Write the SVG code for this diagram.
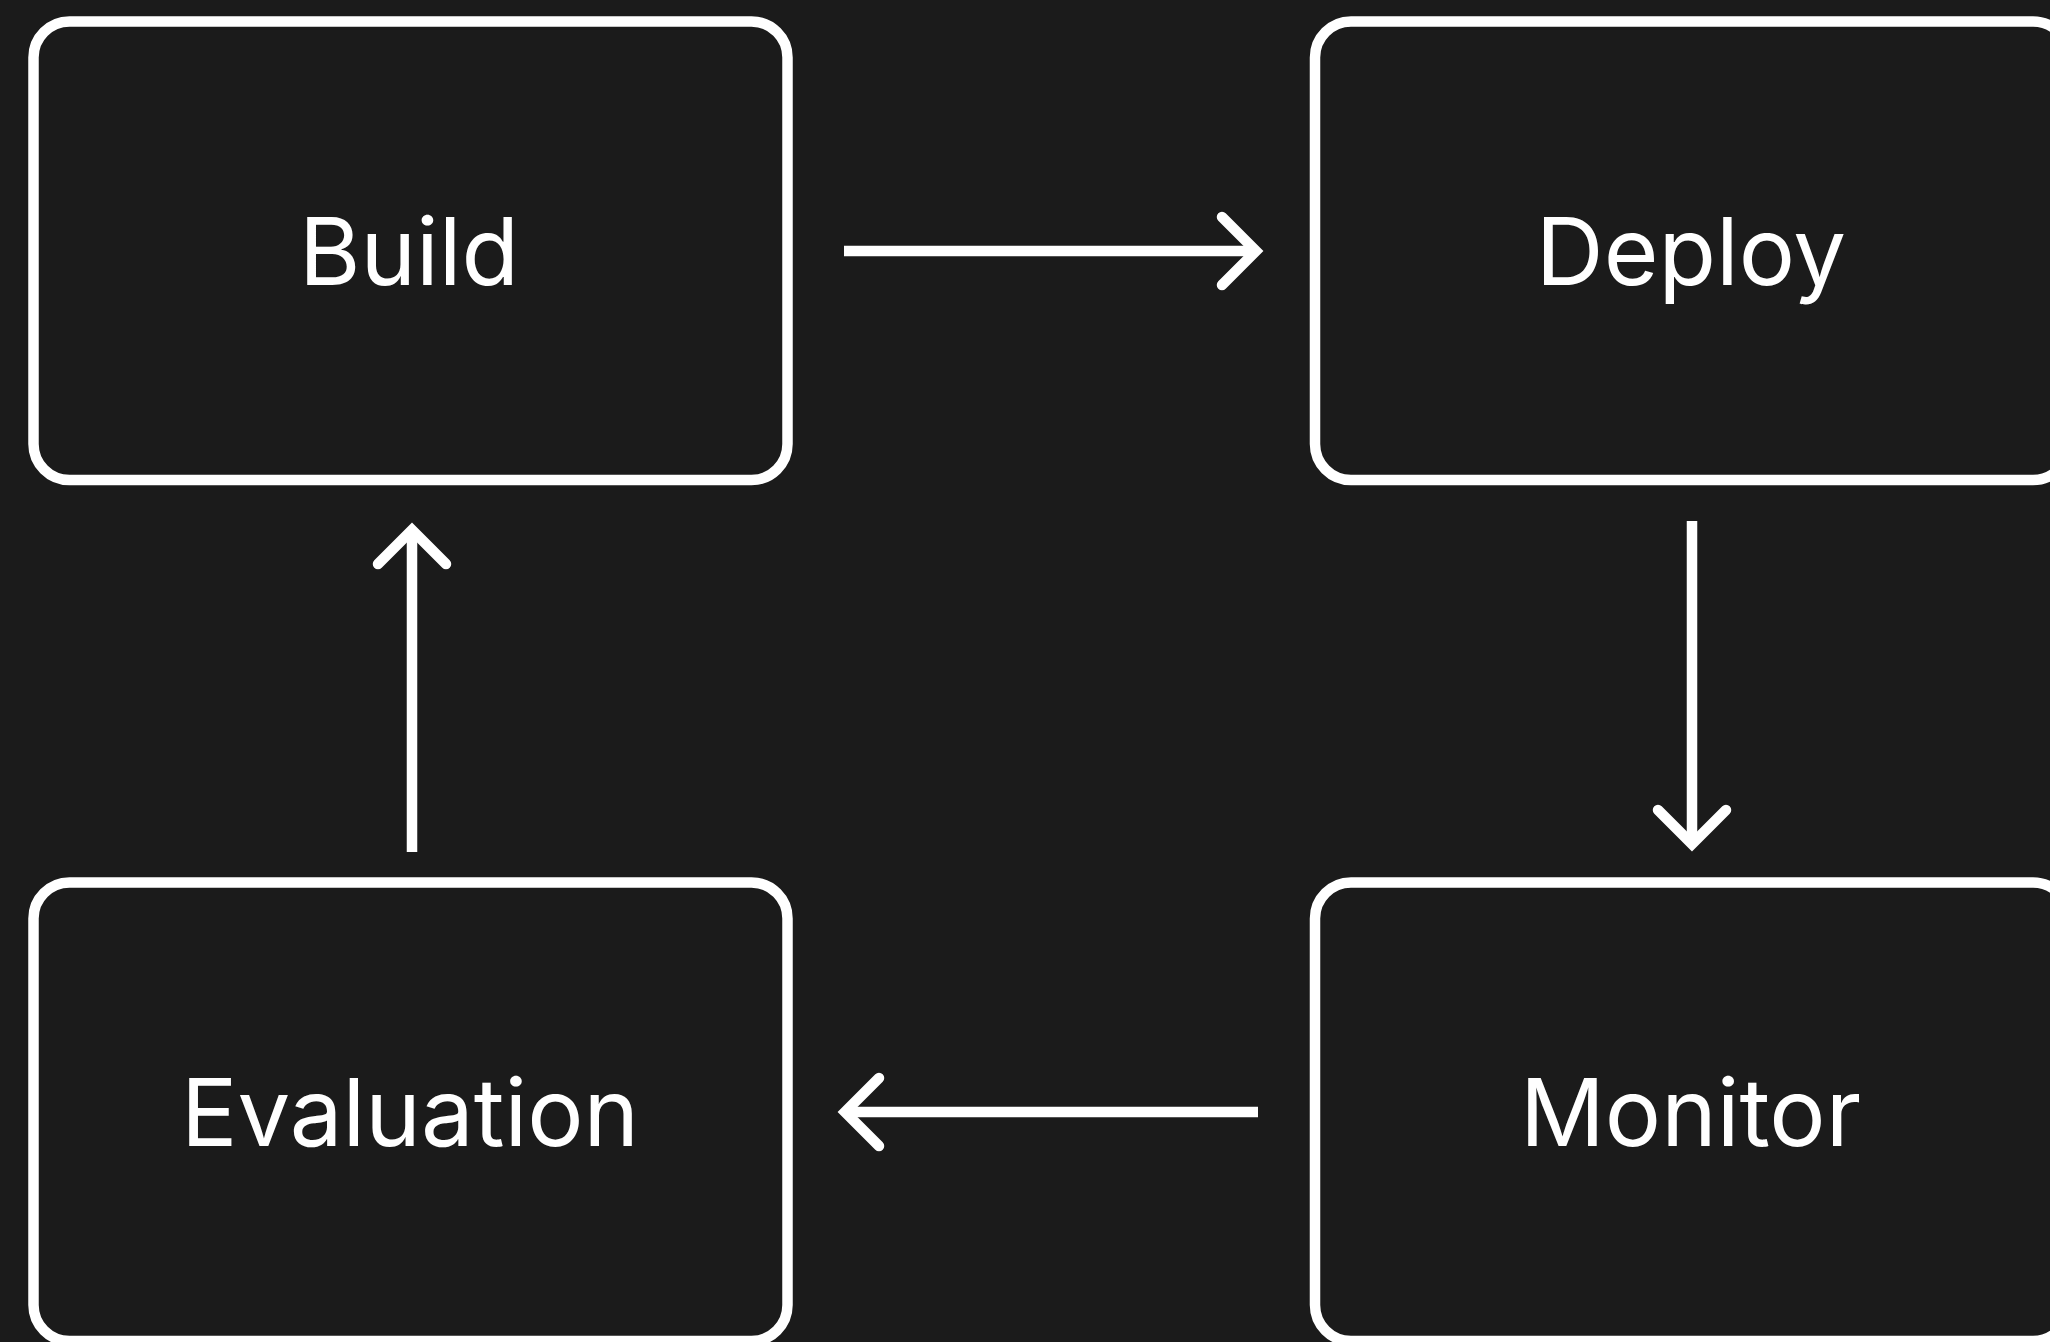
<svg xmlns="http://www.w3.org/2000/svg" width="2050" height="1342" viewBox="0 0 2050 1342">
  <style>
    .box { fill: #1b1b1b; stroke: #ffffff; stroke-width: 10.5; }
    .label { fill: #ffffff; font-family: Inter, "Noto Sans", "Liberation Sans", sans-serif; font-size: 94px; text-anchor: middle; }
    .edge { fill: none; stroke: #ffffff; stroke-width: 10.5; stroke-linecap: butt; }
  </style>
  <defs>
    <marker id="chevron" markerUnits="userSpaceOnUse" viewBox="-50 -50 100 100" markerWidth="100" markerHeight="100" refX="0" refY="0" orient="auto" overflow="visible">
      <path d="M-34,-34 L0,0 L-34,34" fill="none" stroke="#ffffff" stroke-width="10.5" stroke-linecap="round" stroke-linejoin="miter"/>
    </marker>
  </defs>
  <rect x="0" y="0" width="2050" height="1342" fill="#1b1b1b"/>

  <g id="build">
    <rect class="box" x="33.5" y="21.5" width="754" height="458.5" rx="36" ry="36"/>
    <text class="label" x="409" y="285">Build</text>
  </g>
  <g id="deploy">
    <rect class="box" x="1315" y="21.5" width="754" height="458.5" rx="36" ry="36"/>
    <text class="label" x="1691" y="285">Deploy</text>
  </g>
  <g id="monitor">
    <rect class="box" x="1315" y="882.5" width="754" height="458.5" rx="36" ry="36"/>
    <text class="label" x="1690.5" y="1146">Monitor</text>
  </g>
  <g id="evaluation">
    <rect class="box" x="33.5" y="882.5" width="754" height="458.5" rx="36" ry="36"/>
    <text class="label" x="410" y="1146">Evaluation</text>
  </g>

  <g id="connectors">
    <path class="edge" d="M844,251 H1256" marker-end="url(#chevron)"/>
    <path class="edge" d="M1692,521 V844" marker-end="url(#chevron)"/>
    <path class="edge" d="M1258,1112 H845" marker-end="url(#chevron)"/>
    <path class="edge" d="M412,852 V530" marker-end="url(#chevron)"/>
  </g>
</svg>
